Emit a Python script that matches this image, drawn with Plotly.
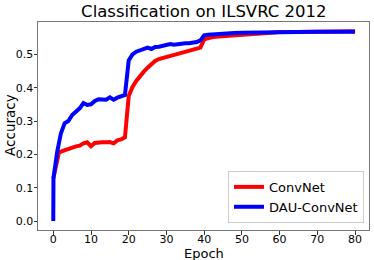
import plotly.graph_objects as go

conv_epochs = [0, 1, 1.5, 2, 3, 4, 5, 6, 7, 8, 9, 10, 11, 12, 13, 14, 15, 16, 17, 18, 19,
               20, 21, 22, 23, 24, 25, 26, 27, 28, 29, 30, 31, 32, 33, 34, 35, 36, 37, 38, 39,
               40, 41, 42, 43, 44, 45, 46, 47, 48, 49, 50, 52, 54, 56, 58, 60, 65, 70, 75, 80]
conv_acc = [0.128, 0.19, 0.205, 0.208, 0.212, 0.218, 0.223, 0.224, 0.226, 0.233, 0.236, 0.224,
            0.234, 0.236, 0.236, 0.236, 0.237, 0.233, 0.242, 0.245, 0.251,
            0.375, 0.402, 0.42, 0.435, 0.448, 0.46, 0.472, 0.48, 0.486, 0.489, 0.492, 0.494,
            0.497, 0.503, 0.504, 0.506, 0.51, 0.513, 0.516, 0.52,
            0.545, 0.549, 0.551, 0.553, 0.554, 0.555, 0.556, 0.557, 0.558, 0.559, 0.56,
            0.561, 0.562, 0.563, 0.565, 0.567, 0.567, 0.568, 0.568, 0.569]

dau_epochs = [0, 0.05, 1, 2, 3, 4, 5, 6, 7, 8, 9, 10, 11, 12, 13, 14, 15, 16, 17, 18, 19,
              20, 21, 22, 23, 24, 25, 26, 27, 28, 29, 30, 31, 32, 33, 34, 35, 36, 37, 38, 39,
              40, 41, 42, 44, 46, 48, 50, 55, 60, 65, 70, 75, 80]
dau_acc = [0.0, 0.128, 0.205, 0.262, 0.293, 0.30, 0.318, 0.328, 0.338, 0.354, 0.348, 0.350,
           0.36, 0.365, 0.365, 0.364, 0.371, 0.364, 0.370, 0.374, 0.378,
           0.482, 0.500, 0.508, 0.513, 0.518, 0.52, 0.516, 0.522, 0.523, 0.525, 0.527, 0.531,
           0.529, 0.531, 0.533, 0.533, 0.533, 0.535, 0.537, 0.542,
           0.557, 0.559, 0.560, 0.561, 0.563, 0.564, 0.565, 0.566, 0.568, 0.568, 0.568,
           0.568, 0.568]

x_ticks = [0, 10, 20, 30, 40, 50, 60, 70, 80]
y_ticks = [0.0, 0.1, 0.2, 0.3, 0.4, 0.5]
y_tick_labels = ["0.0", "0.1", "0.2", "0.3", "0.4", "0.5"]

font = "DejaVu Sans"

fig = go.Figure()
fig.add_trace(go.Scatter(x=conv_epochs, y=conv_acc, mode="lines", name="ConvNet",
                         line=dict(color="#ff0000", width=4)))
fig.add_trace(go.Scatter(x=dau_epochs, y=dau_acc, mode="lines", name="DAU-ConvNet",
                         line=dict(color="#0000ff", width=4)))

fig.update_layout(
    width=374, height=260,
    margin=dict(l=38, r=5, t=22, b=30, autoexpand=False),
    paper_bgcolor="white", plot_bgcolor="white",
    font=dict(family=font, size=11, color="black"),
    title=dict(text="Classification on ILSVRC 2012", x=0.545, xanchor="center",
               y=0.955, yanchor="middle", font=dict(size=16.5, family=font, color="black")),
    showlegend=True,
    legend=dict(x=0.574, y=0.034, xanchor="left", yanchor="bottom",
                bgcolor="white", bordercolor="#cccccc", borderwidth=1,
                font=dict(size=13, family=font, color="black"),
                tracegroupgap=0, itemwidth=30),
    annotations=[
        dict(text="Epoch", xref="paper", yref="paper", x=0.5, y=-0.112,
             xanchor="center", yanchor="middle", showarrow=False,
             font=dict(size=13, family=font, color="black")),
        dict(text="Accuracy", xref="paper", yref="paper", x=-0.0846, y=0.505,
             xanchor="center", yanchor="middle", textangle=-90, showarrow=False,
             font=dict(size=13.5, family=font, color="black")),
    ],
)
fig.update_xaxes(range=[-4.05, 83.7], tickvals=x_ticks, ticks="outside", ticklen=3.5,
                 tickwidth=1, tickcolor="#333", showgrid=False, zeroline=False,
                 showline=True, mirror=True, linecolor="#777", linewidth=1,
                 automargin=False, ticklabelstandoff=-5,
                 tickfont=dict(size=11))
fig.update_yaxes(range=[-0.027, 0.597], tickvals=y_ticks, ticktext=y_tick_labels,
                 ticks="outside", ticklen=3.5, tickwidth=1, tickcolor="#333",
                 showgrid=False, zeroline=False, showline=True, mirror=True,
                 linecolor="#777", linewidth=1, automargin=False, ticklabelstandoff=-2,
                 tickfont=dict(size=11))

fig.write_html("out.html", config={"displayModeBar": False},
               post_script="document.body.style.margin='0';")
